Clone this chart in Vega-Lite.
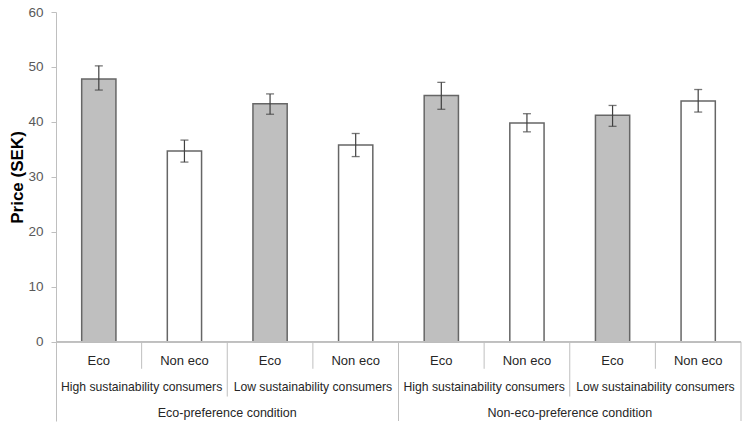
{
  "$schema": "https://vega.github.io/schema/vega-lite/v6.json",
  "width": 685,
  "height": 409,
  "autosize": {"type": "none"},
  "padding": {"left": 56, "top": 12, "right": 6, "bottom": 9},
  "background": "white",
  "config": {"view": {"stroke": null}, "font": "Liberation Sans"},
  "data": {
    "values": [
      {"cell": "c1", "condition": "Eco-preference condition", "consumer": "High sustainability consumers", "product": "Eco", "price": 47.8, "lo": 45.8, "hi": 50.2},
      {"cell": "c2", "condition": "Eco-preference condition", "consumer": "High sustainability consumers", "product": "Non eco", "price": 34.7, "lo": 32.7, "hi": 36.7},
      {"cell": "c3", "condition": "Eco-preference condition", "consumer": "Low sustainability consumers", "product": "Eco", "price": 43.3, "lo": 41.4, "hi": 45.1},
      {"cell": "c4", "condition": "Eco-preference condition", "consumer": "Low sustainability consumers", "product": "Non eco", "price": 35.8, "lo": 33.7, "hi": 37.9},
      {"cell": "c5", "condition": "Non-eco-preference condition", "consumer": "High sustainability consumers", "product": "Eco", "price": 44.8, "lo": 42.3, "hi": 47.2},
      {"cell": "c6", "condition": "Non-eco-preference condition", "consumer": "High sustainability consumers", "product": "Non eco", "price": 39.8, "lo": 38.2, "hi": 41.5},
      {"cell": "c7", "condition": "Non-eco-preference condition", "consumer": "Low sustainability consumers", "product": "Eco", "price": 41.2, "lo": 39.2, "hi": 43.0},
      {"cell": "c8", "condition": "Non-eco-preference condition", "consumer": "Low sustainability consumers", "product": "Non eco", "price": 43.8, "lo": 41.8, "hi": 45.9}
    ]
  },
  "layer": [
    {
      "mark": {"type": "bar", "width": {"band": 0.4}, "stroke": "#666666", "strokeWidth": 1.5},
      "encoding": {
        "x": {"field": "cell", "type": "nominal", "sort": null, "scale": {"paddingInner": 0, "paddingOuter": 0}, "axis": null},
        "y": {
          "field": "price", "type": "quantitative",
          "scale": {"domain": [-14.4, 60], "nice": false, "zero": false},
          "axis": {
            "title": "Price (SEK)", "values": [0, 10, 20, 30, 40, 50, 60], "grid": false,
            "domainColor": "#bfbfbf", "tickColor": "#bfbfbf", "tickSize": 5,
            "labelPadding": 8, "labelFontSize": 13.5, "labelColor": "#595959", "labelFont": "Liberation Sans",
            "titleFont": "Liberation Sans", "titleFontSize": 17, "titleFontWeight": "bold", "titleColor": "#000000",
            "titleAngle": 270, "titleX": -39, "titleY": 165, "titleAlign": "center", "titleBaseline": "middle"
          }
        },
        "color": {"field": "product", "type": "nominal", "scale": {"domain": ["Eco", "Non eco"], "range": ["#bfbfbf", "#ffffff"]}, "legend": null}
      }
    },
    {
      "mark": {"type": "rule", "color": "#bfbfbf", "strokeWidth": 1},
      "encoding": {"y": {"datum": 0, "type": "quantitative"}}
    },
    {
      "mark": {"type": "rule", "color": "#404040", "strokeWidth": 1.2},
      "encoding": {
        "x": {"field": "cell", "type": "nominal", "sort": null},
        "y": {"field": "lo", "type": "quantitative"},
        "y2": {"field": "hi"}
      }
    },
    {
      "mark": {"type": "tick", "color": "#404040", "size": 8, "thickness": 1.3},
      "encoding": {
        "x": {"field": "cell", "type": "nominal", "sort": null},
        "y": {"field": "lo", "type": "quantitative"}
      }
    },
    {
      "mark": {"type": "tick", "color": "#404040", "size": 8, "thickness": 1.3},
      "encoding": {
        "x": {"field": "cell", "type": "nominal", "sort": null},
        "y": {"field": "hi", "type": "quantitative"}
      }
    },
    {
      "transform": [{"filter": "datum.product == 'Non eco'"}],
      "mark": {"type": "rule", "color": "#bfbfbf", "strokeWidth": 1},
      "encoding": {
        "x": {"field": "cell", "type": "nominal", "sort": null, "bandPosition": 0},
        "y": {"datum": 0, "type": "quantitative"},
        "y2": {"datum": -4.9}
      }
    },
    {
      "transform": [{"filter": "datum.product == 'Eco' && datum.consumer == 'Low sustainability consumers'"}],
      "mark": {"type": "rule", "color": "#bfbfbf", "strokeWidth": 1},
      "encoding": {
        "x": {"field": "cell", "type": "nominal", "sort": null, "bandPosition": 0},
        "y": {"datum": 0, "type": "quantitative"},
        "y2": {"datum": -9.95}
      }
    },
    {
      "transform": [{"filter": "datum.product == 'Eco' && datum.consumer == 'High sustainability consumers' && datum.condition == 'Non-eco-preference condition'"}],
      "mark": {"type": "rule", "color": "#bfbfbf", "strokeWidth": 1},
      "encoding": {
        "x": {"field": "cell", "type": "nominal", "sort": null, "bandPosition": 0},
        "y": {"datum": 0, "type": "quantitative"},
        "y2": {"datum": -14.4}
      }
    },
    {
      "transform": [{"filter": "datum.product == 'Non eco' && datum.consumer == 'Low sustainability consumers' && datum.condition == 'Non-eco-preference condition'"}],
      "mark": {"type": "rule", "color": "#bfbfbf", "strokeWidth": 1},
      "encoding": {
        "x": {"field": "cell", "type": "nominal", "sort": null, "bandPosition": 1},
        "y": {"datum": 0, "type": "quantitative"},
        "y2": {"datum": -14.4}
      }
    },
    {
      "mark": {"type": "text", "fontSize": 13, "color": "#262626", "baseline": "middle", "align": "center"},
      "encoding": {
        "x": {"field": "cell", "type": "nominal", "sort": null},
        "y": {"datum": -3.45, "type": "quantitative"},
        "text": {"field": "product"}
      }
    },
    {
      "transform": [{"filter": "datum.product == 'Eco'"}],
      "mark": {"type": "text", "fontSize": 12.2, "color": "#262626", "baseline": "middle", "align": "center"},
      "encoding": {
        "x": {"field": "cell", "type": "nominal", "sort": null, "bandPosition": 1},
        "y": {"datum": -8.3, "type": "quantitative"},
        "text": {"field": "consumer"}
      }
    },
    {
      "transform": [{"filter": "datum.product == 'Non eco' && datum.consumer == 'High sustainability consumers'"}],
      "mark": {"type": "text", "fontSize": 12.5, "color": "#262626", "baseline": "middle", "align": "center"},
      "encoding": {
        "x": {"field": "cell", "type": "nominal", "sort": null, "bandPosition": 1},
        "y": {"datum": -12.9, "type": "quantitative"},
        "text": {"field": "condition"}
      }
    }
  ]
}
